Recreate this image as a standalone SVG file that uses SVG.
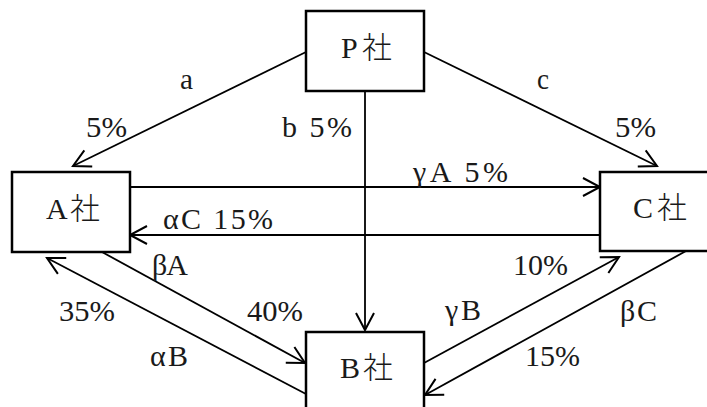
<svg xmlns="http://www.w3.org/2000/svg" width="707" height="407" viewBox="0 0 707 407">
<style>
.box{fill:#fff;stroke:#000;stroke-width:2.5}
.ln{fill:none;stroke:#000;stroke-width:1.8}
.t{font-family:"Liberation Serif","DejaVu Serif","Noto Sans CJK JP",serif;font-size:30px;fill:#1a1a1a}
.k{font-weight:300}
</style>
<defs>
<marker id="ah" markerUnits="userSpaceOnUse" markerWidth="24" markerHeight="24" viewBox="-20 -12 24 24" refX="0" refY="0" orient="auto">
<path d="M-17,-9 L0,0 L-17,9" fill="none" stroke="#000" stroke-width="2"/>
</marker>
</defs>
<g id="connectors">
<path class="ln" d="M306,52 L73,166" marker-end="url(#ah)"/>
<path class="ln" d="M424,52 L657,166" marker-end="url(#ah)"/>
<path class="ln" d="M365,91 L365,330" marker-end="url(#ah)"/>
<path class="ln" d="M130,187 L600,187" marker-end="url(#ah)"/>
<path class="ln" d="M600,235 L130,235" marker-end="url(#ah)"/>
<path class="ln" d="M102,252 L305,363" marker-end="url(#ah)"/>
<path class="ln" d="M306,394 L47,258" marker-end="url(#ah)"/>
<path class="ln" d="M424,363 L619,257" marker-end="url(#ah)"/>
<path class="ln" d="M686,251 L425,395" marker-end="url(#ah)"/>
<g id="labels" class="t">
<text x="180" y="89" textLength="13" lengthAdjust="spacingAndGlyphs">a</text>
<text x="86" y="137" textLength="41" lengthAdjust="spacingAndGlyphs">5%</text>
<text x="282" y="137" textLength="70" lengthAdjust="spacing">b 5%</text>
<text x="537" y="89" textLength="12" lengthAdjust="spacingAndGlyphs">c</text>
<text x="615" y="137" textLength="41" lengthAdjust="spacingAndGlyphs">5%</text>
<text x="413" y="182" textLength="95" lengthAdjust="spacing">γA 5%</text>
<text x="163" y="229" textLength="110" lengthAdjust="spacing">αC 15%</text>
<text x="152" y="275" textLength="36" lengthAdjust="spacing">βA</text>
<text x="247" y="321" textLength="56" lengthAdjust="spacingAndGlyphs">40%</text>
<text x="59" y="321" textLength="56" lengthAdjust="spacingAndGlyphs">35%</text>
<text x="150" y="366" textLength="38" lengthAdjust="spacing">αB</text>
<text x="513" y="275" textLength="55" lengthAdjust="spacingAndGlyphs">10%</text>
<text x="445" y="320" textLength="36" lengthAdjust="spacing">γB</text>
<text x="620" y="321" textLength="37" lengthAdjust="spacing">βC</text>
<text x="525" y="366" textLength="55" lengthAdjust="spacingAndGlyphs">15%</text>
</g>
</g>
<g id="node-P">
<rect class="box" x="306" y="11" width="118" height="80"/>
<text class="t" x="341" y="58" textLength="51" lengthAdjust="spacing">P<tspan class="k">社</tspan></text>
</g>
<g id="node-A">
<rect class="box" x="12" y="172" width="118" height="80"/>
<text class="t" x="46" y="219" textLength="54" lengthAdjust="spacing">A<tspan class="k">社</tspan></text>
</g>
<g id="node-C">
<rect class="box" x="600" y="172" width="120" height="79"/>
<text class="t" x="633" y="218" textLength="54" lengthAdjust="spacing">C<tspan class="k">社</tspan></text>
</g>
<g id="node-B">
<rect class="box" x="306" y="332" width="118" height="90"/>
<text class="t" x="340" y="378" textLength="53" lengthAdjust="spacing">B<tspan class="k">社</tspan></text>
</g>
</svg>
